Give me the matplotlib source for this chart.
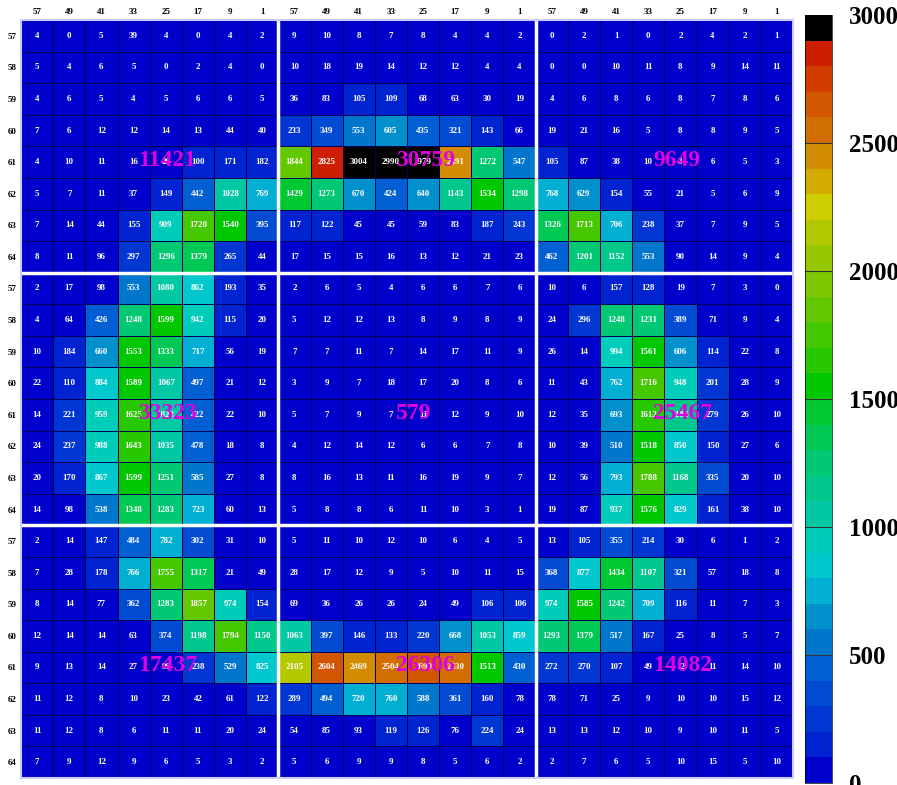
import numpy as np
import matplotlib.pyplot as plt
from matplotlib.colors import ListedColormap, BoundaryNorm

# column / row labels of one 8x8 block
col_labels = [57, 49, 41, 33, 25, 17, 9, 1]
row_labels = [57, 58, 59, 60, 61, 62, 63, 64]

# counts per block, rows 57..64 top to bottom, columns 57..1 left to right
top_left = [
    [4, 0, 5, 39, 4, 0, 4, 2],
    [5, 4, 6, 5, 0, 2, 4, 0],
    [4, 6, 5, 4, 5, 6, 6, 5],
    [7, 6, 12, 12, 14, 13, 44, 40],
    [4, 10, 11, 16, 26, 100, 171, 182],
    [5, 7, 11, 37, 149, 442, 1028, 769],
    [7, 14, 44, 155, 909, 1720, 1540, 395],
    [8, 11, 96, 297, 1296, 1379, 265, 44],
]
top_mid = [
    [9, 10, 8, 7, 8, 4, 4, 2],
    [10, 18, 19, 14, 12, 12, 4, 4],
    [36, 83, 105, 109, 68, 63, 30, 19],
    [233, 349, 553, 605, 435, 321, 143, 66],
    [1844, 2825, 3004, 2990, 2979, 2491, 1272, 547],
    [1429, 1273, 670, 424, 640, 1143, 1534, 1298],
    [117, 122, 45, 45, 59, 83, 187, 243],
    [17, 15, 15, 16, 13, 12, 21, 23],
]
top_right = [
    [0, 2, 1, 0, 2, 4, 2, 1],
    [0, 0, 10, 11, 8, 9, 14, 11],
    [4, 6, 8, 6, 8, 7, 8, 6],
    [19, 21, 16, 5, 8, 8, 9, 5],
    [105, 87, 38, 10, 3, 6, 5, 3],
    [768, 629, 154, 55, 21, 5, 6, 9],
    [1326, 1713, 706, 238, 37, 7, 9, 5],
    [462, 1201, 1152, 553, 90, 14, 9, 4],
]
mid_left = [
    [2, 17, 98, 553, 1080, 862, 193, 35],
    [4, 64, 426, 1248, 1599, 942, 115, 20],
    [10, 184, 660, 1553, 1333, 717, 56, 19],
    [22, 110, 884, 1589, 1067, 497, 21, 12],
    [14, 221, 959, 1625, 1023, 422, 22, 10],
    [24, 237, 988, 1643, 1035, 478, 18, 8],
    [20, 170, 867, 1599, 1251, 585, 27, 8],
    [14, 98, 538, 1348, 1283, 723, 60, 13],
]
mid_mid = [
    [2, 6, 5, 4, 6, 6, 7, 6],
    [5, 12, 12, 13, 8, 9, 8, 9],
    [7, 7, 11, 7, 14, 17, 11, 9],
    [3, 9, 7, 18, 17, 20, 8, 6],
    [5, 7, 9, 7, 11, 12, 9, 10],
    [4, 12, 14, 12, 6, 6, 7, 8],
    [8, 16, 13, 11, 16, 19, 9, 7],
    [5, 8, 8, 6, 11, 10, 3, 1],
]
mid_right = [
    [10, 6, 157, 128, 19, 7, 3, 0],
    [24, 296, 1248, 1231, 389, 71, 9, 4],
    [26, 14, 994, 1561, 606, 114, 22, 8],
    [11, 43, 762, 1716, 948, 201, 28, 9],
    [12, 35, 693, 1612, 1186, 279, 26, 10],
    [10, 39, 510, 1518, 850, 150, 27, 6],
    [12, 56, 793, 1788, 1168, 335, 20, 10],
    [19, 87, 937, 1576, 829, 161, 38, 10],
]
bot_left = [
    [2, 14, 147, 484, 782, 302, 31, 10],
    [7, 28, 178, 766, 1755, 1317, 21, 49],
    [8, 14, 77, 362, 1283, 1857, 974, 154],
    [12, 14, 14, 63, 374, 1198, 1794, 1150],
    [9, 13, 14, 27, 96, 238, 529, 825],
    [11, 12, 8, 10, 23, 42, 61, 122],
    [11, 12, 8, 6, 11, 11, 20, 24],
    [7, 9, 12, 9, 6, 5, 3, 2],
]
bot_mid = [
    [5, 11, 10, 12, 10, 6, 4, 5],
    [28, 17, 12, 9, 5, 10, 11, 15],
    [69, 36, 26, 26, 24, 49, 106, 106],
    [1063, 397, 146, 133, 220, 668, 1053, 859],
    [2105, 2604, 2469, 2504, 2699, 2530, 1513, 430],
    [289, 494, 720, 760, 588, 361, 160, 78],
    [54, 85, 93, 119, 126, 76, 224, 24],
    [5, 6, 9, 9, 8, 5, 6, 2],
]
bot_right = [
    [13, 105, 355, 214, 30, 6, 1, 2],
    [368, 877, 1434, 1107, 321, 57, 18, 8],
    [974, 1585, 1242, 709, 116, 11, 7, 3],
    [1293, 1379, 517, 167, 25, 8, 5, 7],
    [272, 270, 107, 49, 12, 11, 14, 10],
    [78, 71, 25, 9, 10, 10, 15, 12],
    [13, 13, 12, 10, 9, 10, 11, 5],
    [2, 7, 6, 5, 10, 15, 5, 10],
]

blocks = [[top_left, top_mid, top_right],
          [mid_left, mid_mid, mid_right],
          [bot_left, bot_mid, bot_right]]

# 30-step palette, 100 counts per step
palette = [
    (0, 0, 204), (0, 35, 210), (0, 55, 210), (0, 75, 210), (0, 95, 210),
    (0, 118, 205), (0, 145, 205), (0, 175, 210), (0, 200, 205), (0, 205, 185),
    (0, 200, 165), (0, 200, 140), (0, 200, 115), (0, 200, 85), (0, 200, 50),
    (0, 200, 0), (40, 200, 0), (70, 200, 0), (100, 200, 0), (125, 200, 0),
    (150, 200, 0), (180, 200, 0), (205, 205, 0), (210, 170, 0), (210, 140, 0),
    (210, 110, 0), (210, 85, 0), (210, 60, 0), (205, 30, 0), (0, 0, 0),
]
cmap = ListedColormap([tuple(c / 255 for c in rgb) for rgb in palette])
cmap.set_over('black')
norm = BoundaryNorm(np.arange(0, 3001, 100), cmap.N)

grid = np.block([[np.array(b) for b in row] for row in blocks])

fig = plt.figure(figsize=(8.97, 7.85), dpi=100)
ax = fig.add_axes([21 / 897, 1 - 778 / 785, 772 / 897, 758 / 785])
mesh = ax.pcolormesh(np.arange(25), np.arange(25), grid, cmap=cmap, norm=norm,
                     edgecolors='#000055', linewidth=0.5)
ax.set_xlim(0, 24)
ax.set_ylim(24, 0)

# cell values
for i in range(24):
    for j in range(24):
        ax.text(j + 0.5, i + 0.5, str(grid[i, j]), ha='center', va='center',
                color='white', fontsize=6.5, fontweight='bold',
                family='Liberation Serif')

# block separators
for k in (8, 16):
    ax.axvline(k, color='white', lw=2.5)
    ax.axhline(k, color='white', lw=2.5)

# block totals
for bi in range(3):
    for bj in range(3):
        total = int(np.sum(blocks[bi][bj]))
        ax.text(bj * 8 + 3.65, bi * 8 + 4.45, str(total), ha='left', va='center',
                color='#e000e0', fontsize=17, fontweight='bold',
                family='Liberation Serif')

ax.xaxis.tick_top()
ax.set_xticks(np.arange(24) + 0.5)
ax.set_xticklabels([str(c) for c in col_labels] * 3)
ax.set_yticks(np.arange(24) + 0.5)
ax.set_yticklabels([str(r) for r in row_labels] * 3)
ax.tick_params(length=0, pad=3, labelsize=6.5)
for lab in ax.get_xticklabels() + ax.get_yticklabels():
    lab.set_fontweight('bold')
    lab.set_family('Liberation Serif')
for s in ax.spines.values():
    s.set_color('#ccccff')
    s.set_linewidth(1.5)

# colour bar
cax = fig.add_axes([805 / 897, 1 - 783 / 785, 27 / 897, 768 / 785])
cb = fig.colorbar(mesh, cax=cax, ticks=[0, 500, 1000, 1500, 2000, 2500, 3000])
cb.outline.set_linewidth(0.5)
cax.minorticks_off()
cax.tick_params(length=0, pad=12, labelsize=18)
for lab in cax.get_yticklabels():
    lab.set_fontweight('bold')
    lab.set_family('Liberation Serif')
for y in (500, 1000, 1500, 2000, 2500):
    cax.axhline(y, color='#333333', lw=0.8)

fig.savefig('out.png', dpi=100)
